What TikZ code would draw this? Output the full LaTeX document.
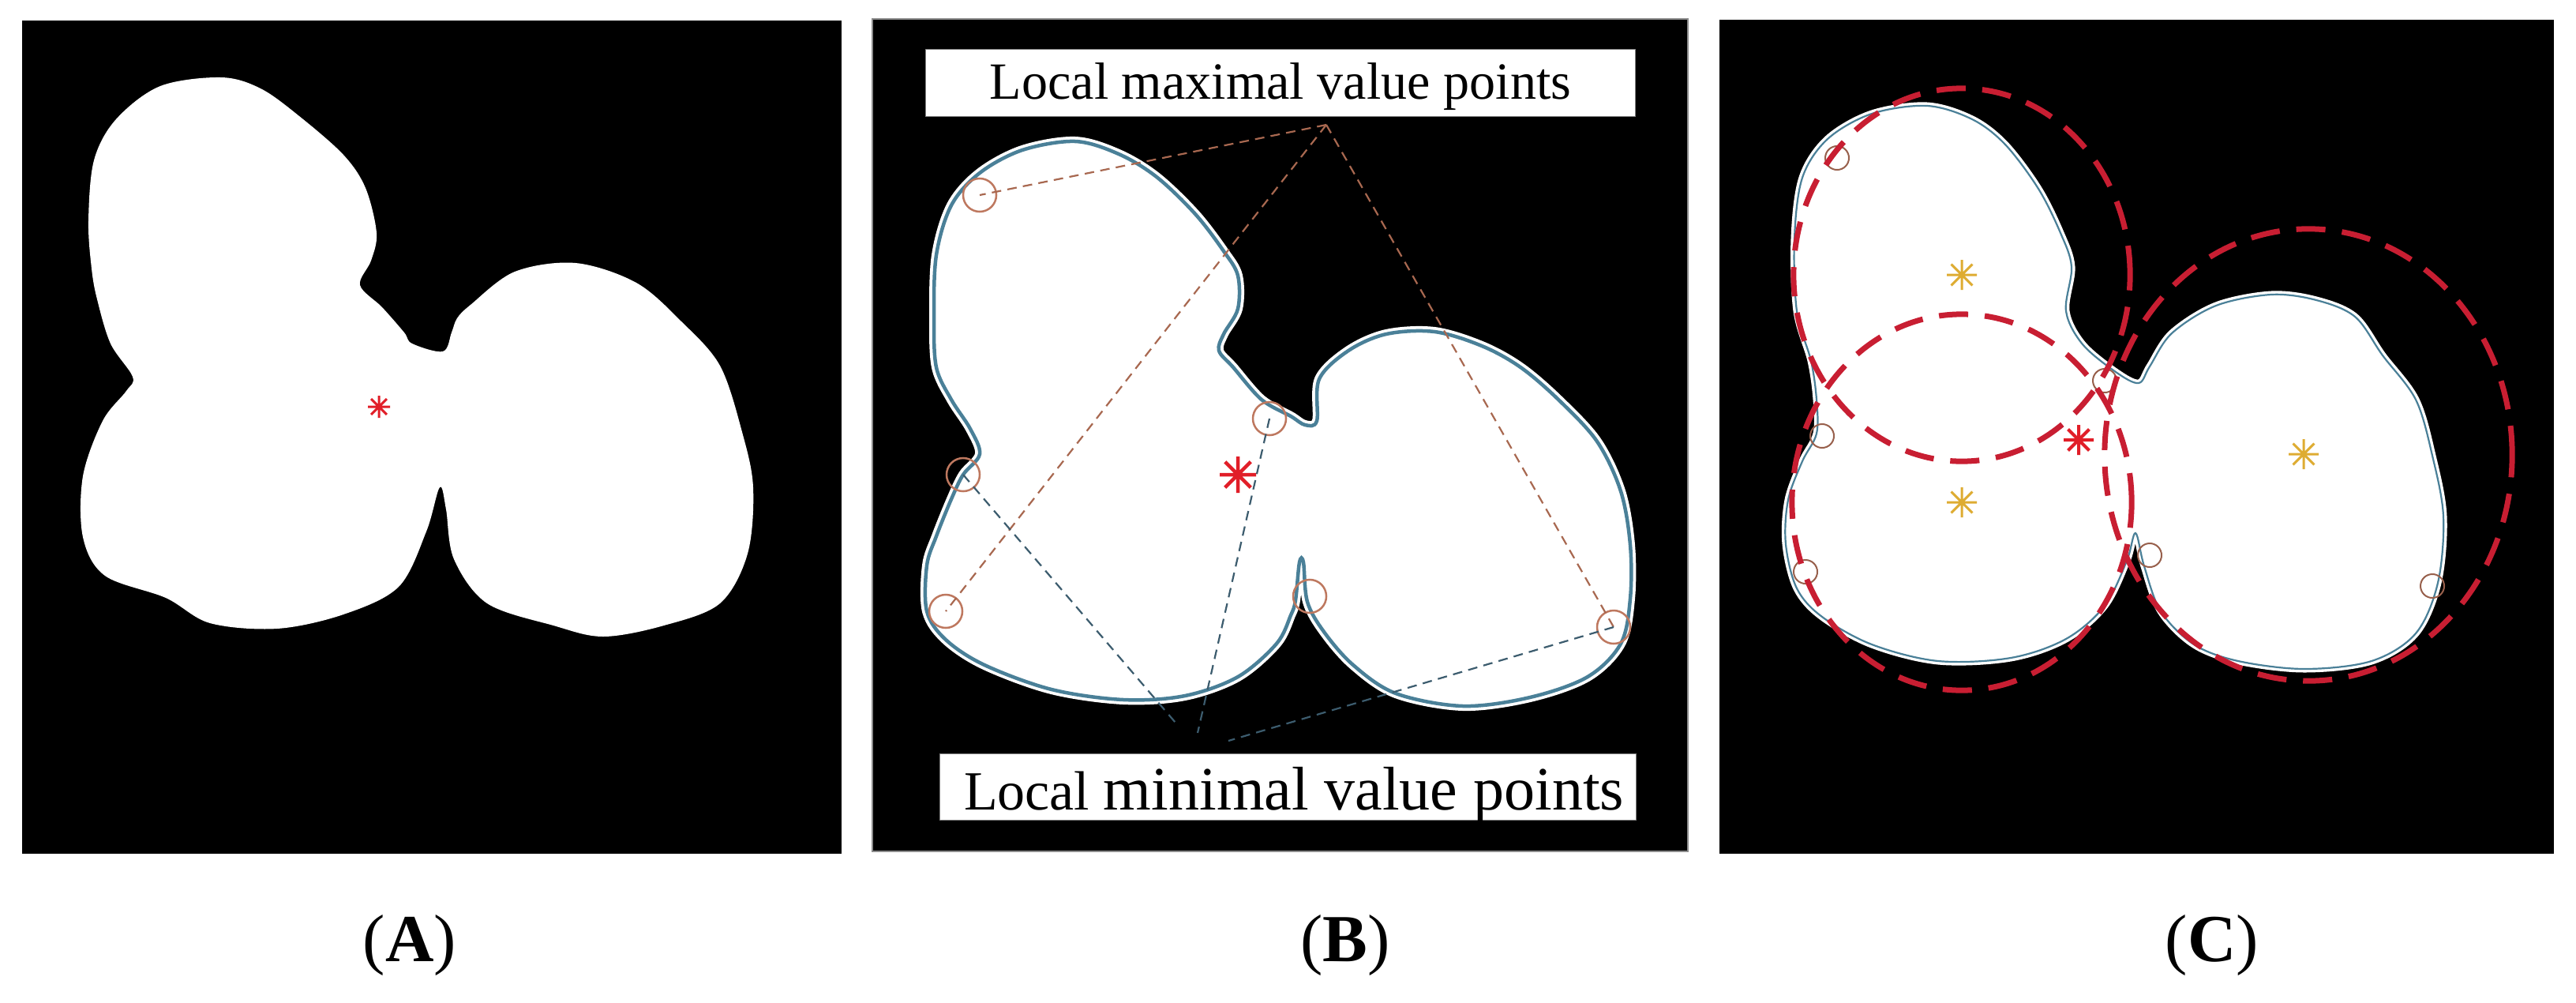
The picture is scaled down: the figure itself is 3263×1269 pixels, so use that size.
\documentclass[tikz,border=0pt]{standalone}
\usepackage{fontspec}
\setmainfont{Liberation Serif}
\definecolor{contourblue}{RGB}{74,128,152}
\definecolor{maxline}{RGB}{168,104,80}
\definecolor{minline}{RGB}{60,92,110}
\definecolor{ringbrown}{RGB}{190,120,95}
\definecolor{fitred}{RGB}{200,30,50}
\definecolor{astred}{RGB}{225,30,40}
\definecolor{astgold}{RGB}{222,172,50}
\tikzset{
  panelbg/.style={fill=black},
  blobA/.style={fill=white},
  blobB/.style={draw=contourblue, line width=0.045cm,
     preaction={fill=white, draw=white, line width=0.12cm}},
  blobC/.style={draw=contourblue, line width=0.022cm,
     preaction={fill=white, draw=white, line width=0.09cm}},
  ring/.style={circle, draw=ringbrown, line width=0.025cm, minimum size=0.42cm, inner sep=0pt},
  smallring/.style={circle, draw=ringbrown!80!black, line width=0.02cm, minimum size=0.30cm, inner sep=0pt},
  maxdash/.style={maxline, line width=0.022cm, dash pattern=on 0.12cm off 0.08cm},
  mindash/.style={minline, line width=0.022cm, dash pattern=on 0.12cm off 0.08cm},
  fitcircle/.style={fitred, line width=0.07cm, dash pattern=on 0.37cm off 0.21cm},
  labelbox/.style={fill=white, draw=black!50, line width=0.01cm},
  asterisk/.pic={\draw[line cap=butt] (-1,0)--(1,0) (0,-1)--(0,1)
      (-0.7071,-0.7071)--(0.7071,0.7071) (-0.7071,0.7071)--(0.7071,-0.7071);},
  panellabel/.style={anchor=base, font=\fontsize{24.2}{28}\selectfont, inner sep=0pt}
}
\begin{document}
\begin{tikzpicture}[x=0.01cm, y=-0.01cm]
\useasboundingbox (0,0) rectangle (3263,1269);
\fill[white] (0,0) rectangle (3263,1269);

% ---------------- Panel A ----------------
\fill[panelbg] (28,26) rectangle (1066,1081);
\path[blobA] plot[smooth cycle, tension=0.55] coordinates {
(280,98) (203,109) (147,151) (119,203) (112,280) (116,340) (123,379) (140,435)
(168,477) (160,495) (130,533) (105,603) (105,680) (133,729) (210,757) (266,789)
(351,796) (435,778) (505,743) (540,673) (557,617) (565,645) (575,708) (617,764)
(701,792) (764,806) (841,792) (912,764) (947,701) (954,617) (940,547) (912,463)
(863,407) (806,358) (729,333) (652,344) (596,386) (579,403) (572,421) (561,445)
(522,435) (512,421) (484,389) (456,361) (470,330) (477,295) (463,238) (435,196)
(379,147) (330,112)};
\pic[color=astred, line width=0.03cm, scale=14] at (480,515) {asterisk};

% ---------------- Panel B ----------------
\fill[panelbg, draw=black!45, line width=0.015cm] (1105,24) rectangle (2138,1078);
\draw[blobB] plot[smooth cycle, tension=0.55] coordinates {
(1362,179) (1295,190) (1241,219) (1205,260) (1186,323) (1183,402) (1186,465)
(1205,506) (1229,543) (1241,575) (1220,601) (1205,632) (1186,679) (1174,716)
(1174,774) (1198,810) (1247,842) (1332,873) (1423,886) (1501,881) (1568,857)
(1617,815) (1635,779) (1641,760) (1646,712) (1651,712) (1656,762) (1677,800)
(1714,842) (1768,878) (1853,894) (1938,883) (2011,857) (2053,815) (2065,758)
(2065,690) (2053,622) (2023,559) (1974,506) (1926,465) (1877,438) (1817,420)
(1756,423) (1708,444) (1671,480) (1668,533) (1653,538) (1635,527) (1598,506)
(1562,465) (1544,444) (1550,423) (1568,391) (1568,349) (1550,318) (1514,271)
(1465,224) (1417,195)};

\node[ring] (btl) at (1241,247) {};
\node[ring] (btn) at (1608,530) {};
\node[ring] (bln) at (1220,601) {};
\node[ring] (bbl) at (1198,774) {};
\node[ring] (bbn) at (1659,755) {};
\node[ring] (bbr) at (2044,794) {};

\coordinate (maxapex) at (1680,158);
\coordinate (minend1) at (1489,915);
\coordinate (minend2) at (1517,928);
\coordinate (minend3) at (1556,938);

\draw[maxdash] (maxapex) -- (btl.center);
\draw[maxdash] (maxapex) -- (bbl.center);
\draw[maxdash] (maxapex) -- (bbr.center);
\draw[mindash] (bln.center) -- (minend1);
\draw[mindash] (btn.center) -- (minend2);
\draw[mindash] (bbr.center) -- (minend3);

\pic[color=astred, line width=0.045cm, scale=23] at (1568,601) {asterisk};

\draw[labelbox] (1172,62) rectangle (2071,147);
\node[anchor=base, inner sep=0pt, font=\fontsize{18.8}{22}\selectfont] (maxlabel) at (1622,125)
  {Local maximal value points};
\draw[labelbox] (1190,954) rectangle (2072,1038);
\node[anchor=base, inner sep=0pt] (minlabel) at (1639,1025)
  {{\fontsize{19.9}{23}\selectfont Local }{\fontsize{22.2}{26}\selectfont minimal value points}};

% ---------------- Panel C ----------------
\fill[panelbg] (2178,25) rectangle (3235,1081);
\draw[blobC] plot[smooth cycle, tension=0.55] coordinates {
(2441,134) (2371,144) (2315,176) (2283,225) (2273,302) (2276,394) (2294,457)
(2301,506) (2301,549) (2283,584) (2265,633) (2262,689) (2276,745) (2308,781)
(2371,816) (2455,837) (2547,833) (2617,809) (2666,767) (2694,710) (2705,675)
(2716,717) (2737,774) (2779,816) (2835,837) (2919,847) (3004,837) (3060,802)
(3088,738) (3095,654) (3081,577) (3060,506) (3018,450) (2983,401) (2934,380)
(2877,373) (2807,387) (2751,422) (2723,464) (2709,485) (2680,471) (2638,436)
(2617,394) (2624,338) (2610,295) (2582,239) (2540,183) (2498,151)};

\node[smallring] (ctl) at (2327,200) {};
\node[smallring] (cln) at (2308,552) {};
\node[smallring] (cbl) at (2287,724) {};
\node[smallring] (ctn) at (2666,482) {};
\node[smallring] (cbn) at (2723,703) {};
\node[smallring] (cbr) at (3081,742) {};

\draw[fitcircle] (2485,348) ellipse[x radius=2.13cm, y radius=2.36cm];
\draw[fitcircle] (2485,636) ellipse[x radius=2.15cm, y radius=2.38cm];
\draw[fitcircle] (2924,576) ellipse[x radius=2.58cm, y radius=2.86cm];

\pic[color=astgold, line width=0.03cm, scale=19] at (2485,348) {asterisk};
\pic[color=astgold, line width=0.03cm, scale=19] at (2485,636) {asterisk};
\pic[color=astgold, line width=0.03cm, scale=19] at (2918,575) {asterisk};
\pic[color=astred, line width=0.04cm, scale=19] at (2633,557) {asterisk};

% ---------------- Panel labels ----------------
\node[panellabel] (labA) at (519,1217) {(\textbf{A})};
\node[panellabel] (labB) at (1704,1217) {(\textbf{B})};
\node[panellabel] (labC) at (2802,1217) {(\textbf{C})};
\end{tikzpicture}
\end{document}
